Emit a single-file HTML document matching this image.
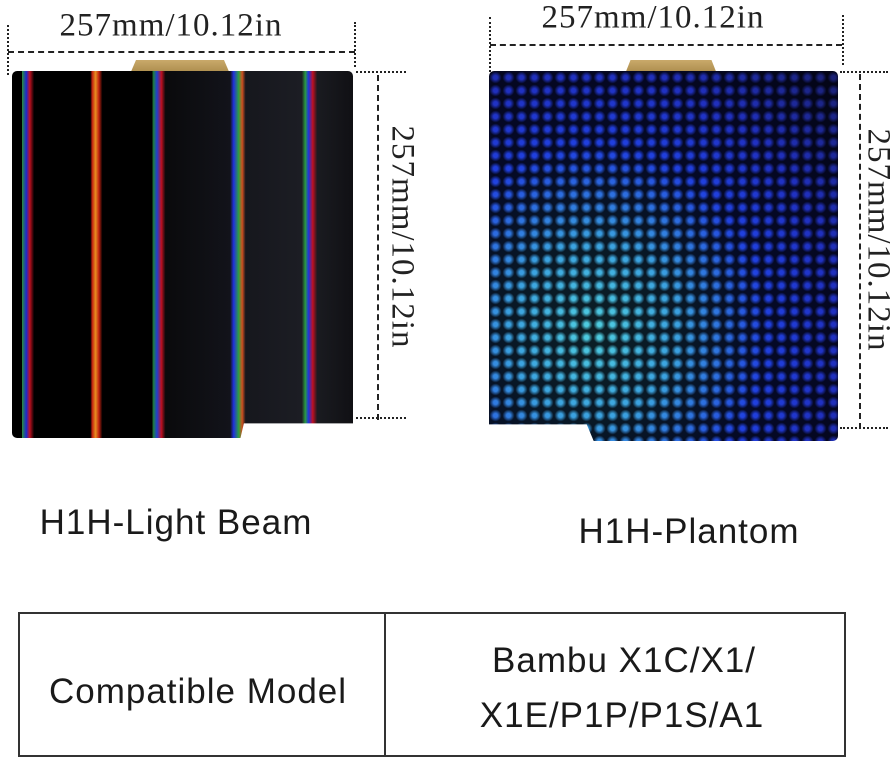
<!DOCTYPE html>
<html><head><style>
body{margin:0;width:896px;height:763px;background:#fff;position:relative;overflow:hidden;font-family:"Liberation Sans",sans-serif;}
.a{position:absolute}
.ser{font-family:"Liberation Serif",serif;color:#222;font-size:33px;letter-spacing:1px;white-space:nowrap}
.hd{border-top:2px dashed #222}
.vd{border-left:2px dotted #222}
.hdot{border-top:2px dotted #222}
.vdash{border-left:2px dashed #222}
.lbl{font-size:35px;color:#1a1a1a;white-space:nowrap;letter-spacing:1px}
.c{transform:translate(-50%,-50%)}
</style></head><body>
<!-- left plate -->
<div class="a" style="left:130px;top:60px;width:100px;height:14px;background:linear-gradient(#c9a96a,#a98a4a);clip-path:polygon(6% 0,94% 0,100% 100%,0 100%)"></div>
<div class="a" style="left:12px;top:71px;width:341px;height:367px;border-radius:5px;clip-path:polygon(0 0,100% 0,100% 96%,68% 96%,67% 100%,0 100%);
background:linear-gradient(90deg,#000 0,#000 3%,#2a8a40 3%,#1c2ad0 4.2%,#c01020 5.2%,#000 6.5%,#000 23%,#c02010 23.5%,#e89020 24.5%,#c02010 25.5%,#000 26.5%,#000 41%,#208040 41.5%,#2040d0 42.5%,#c01020 43.8%,#0a0a0c 45%,#12131a 64%,#2030e0 65%,#30a040 66.5%,#d05020 67.5%,#16171d 68.5%,#1c1d24 85%,#2a9a40 86%,#2030e0 87%,#c01020 88.2%,#1a1b20 89.5%,#101014 100%);"></div>
<div class="a hd" style="left:8px;top:51px;width:347px"></div>
<div class="a vd" style="left:7px;top:25px;height:50px"></div>
<div class="a vd" style="left:354px;top:22px;height:45px"></div>
<div class="a ser c" style="left:171px;top:26px">257mm/10.12in</div>
<div class="a vdash" style="left:377px;top:75px;height:345px"></div>
<div class="a hdot" style="left:356px;top:71px;width:50px"></div>
<div class="a hdot" style="left:356px;top:417px;width:50px"></div>
<div class="a ser" style="left:402px;top:237px;transform:translate(-50%,-50%) rotate(90deg)">257mm/10.12in</div>

<!-- right plate -->
<div class="a" style="left:625px;top:60px;width:92px;height:14px;background:linear-gradient(#c9a96a,#a98a4a);clip-path:polygon(6% 0,94% 0,100% 100%,0 100%)"></div>
<div class="a" style="left:489px;top:71px;width:349px;height:370px;border-radius:5px;clip-path:polygon(0 0,100% 0,100% 100%,30% 100%,28% 95.5%,0 95.5%);
background:radial-gradient(circle,rgba(0,0,0,0) 0,rgba(0,0,0,0) 2px,rgba(0,0,6,.85) 6px) 0 0/13px 13px,
radial-gradient(ellipse at 30% 70%,#50d0e0 0,#3aa0e0 25%,#2040e0 50%,#2030c0 70%,#1a2070 100%);"></div>
<div class="a hd" style="left:490px;top:44px;width:352px"></div>
<div class="a vd" style="left:489px;top:17px;height:55px"></div>
<div class="a vd" style="left:842px;top:15px;height:50px"></div>
<div class="a ser c" style="left:653px;top:18px">257mm/10.12in</div>
<div class="a vdash" style="left:859px;top:74px;height:355px"></div>
<div class="a hdot" style="left:840px;top:71px;width:48px"></div>
<div class="a hdot" style="left:840px;top:427px;width:48px"></div>
<div class="a ser" style="left:878px;top:240px;transform:translate(-50%,-50%) rotate(90deg)">257mm/10.12in</div>

<div class="a lbl c" style="left:176px;top:523px">H1H-Light Beam</div>
<div class="a lbl c" style="left:689px;top:532px">H1H-Plantom</div>

<div class="a" style="left:18px;top:612px;width:824px;height:141px;border:2px solid #333"></div>
<div class="a" style="left:384px;top:612px;width:2px;height:145px;background:#333"></div>
<div class="a lbl c" style="left:198px;top:692px">Compatible Model</div>
<div class="a lbl c" style="left:624px;top:661px">Bambu X1C/X1/</div>
<div class="a lbl c" style="left:622px;top:716px">X1E/P1P/P1S/A1</div>
</body></html>
